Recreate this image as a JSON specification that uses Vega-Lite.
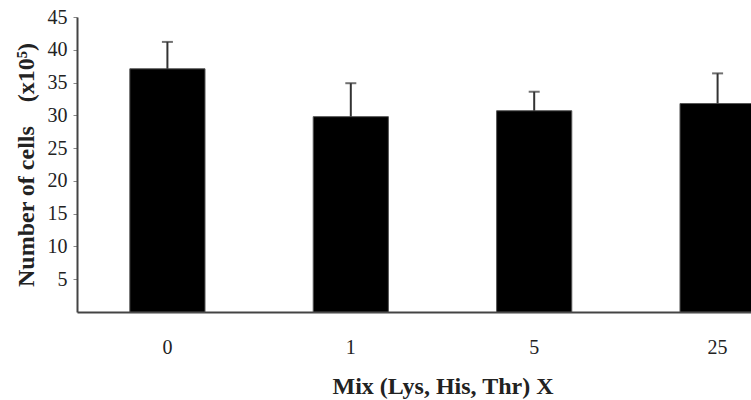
{
  "$schema": "https://vega.github.io/schema/vega-lite/v6.json",
  "width": 674,
  "height": 295,
  "autosize": {"type": "none"},
  "padding": {"left": 77, "top": 17, "right": 0, "bottom": 88},
  "background": "white",
  "data": {
    "values": [
      {"mix": "0", "cells": 37.1, "upper": 41.2},
      {"mix": "1", "cells": 29.8, "upper": 34.9},
      {"mix": "5", "cells": 30.7, "upper": 33.6},
      {"mix": "25", "cells": 31.8, "upper": 36.4}
    ]
  },
  "encoding": {
    "x": {
      "field": "mix",
      "type": "nominal",
      "sort": ["0", "1", "5", "25"],
      "scale": {"range": [0, 731], "paddingInner": 0.59, "paddingOuter": 0.288},
      "axis": {
        "title": "Mix (Lys, His, Thr) X",
        "labelAngle": 0,
        "ticks": false,
        "tickSize": 0,
        "domainColor": "#444",
        "domainWidth": 2,
        "labelFont": "Liberation Serif",
        "labelFontSize": 20,
        "labelColor": "#222",
        "labelPadding": 25,
        "titleFont": "Liberation Serif",
        "titleFontSize": 24,
        "titleFontWeight": "bold",
        "titleColor": "#222",
        "titlePadding": 17
      }
    }
  },
  "layer": [
    {
      "mark": {"type": "bar", "color": "black", "stroke": "#555", "strokeWidth": 1},
      "encoding": {
        "y": {
          "field": "cells",
          "type": "quantitative",
          "title": "Number of cells\u00a0\u00a0\u00a0\u00a0(x10\u2075)",
          "scale": {"domain": [0, 45]},
          "axis": {
            "values": [5, 10, 15, 20, 25, 30, 35, 40, 45],
            "grid": false,
            "domainColor": "#444",
            "domainWidth": 2,
            "tickColor": "#888",
            "tickSize": 4,
            "tickWidth": 1,
            "labelFont": "Liberation Serif",
            "labelFontSize": 20,
            "labelColor": "#222",
            "labelPadding": 6,
            "labelOverlap": false,
            "titleFont": "Liberation Serif",
            "titleFontSize": 24,
            "titleFontWeight": "bold",
            "titleColor": "#222",
            "titlePadding": 9
          }
        }
      }
    },
    {
      "mark": {"type": "rule", "color": "#333", "strokeWidth": 2},
      "encoding": {
        "y": {"field": "cells", "type": "quantitative", "title": "Number of cells\u00a0\u00a0\u00a0\u00a0(x10\u2075)", "axis": {"values": [5, 10, 15, 20, 25, 30, 35, 40, 45], "labelOverlap": false}},
        "y2": {"field": "upper"}
      }
    },
    {
      "mark": {"type": "tick", "color": "#333", "thickness": 2, "size": 11},
      "encoding": {
        "y": {"field": "upper", "type": "quantitative", "title": "Number of cells\u00a0\u00a0\u00a0\u00a0(x10\u2075)", "axis": {"values": [5, 10, 15, 20, 25, 30, 35, 40, 45], "labelOverlap": false}}
      }
    }
  ],
  "config": {"view": {"stroke": null}, "axis": {"labelOverlap": false}, "axisY": {"labelOverlap": false}}
}
